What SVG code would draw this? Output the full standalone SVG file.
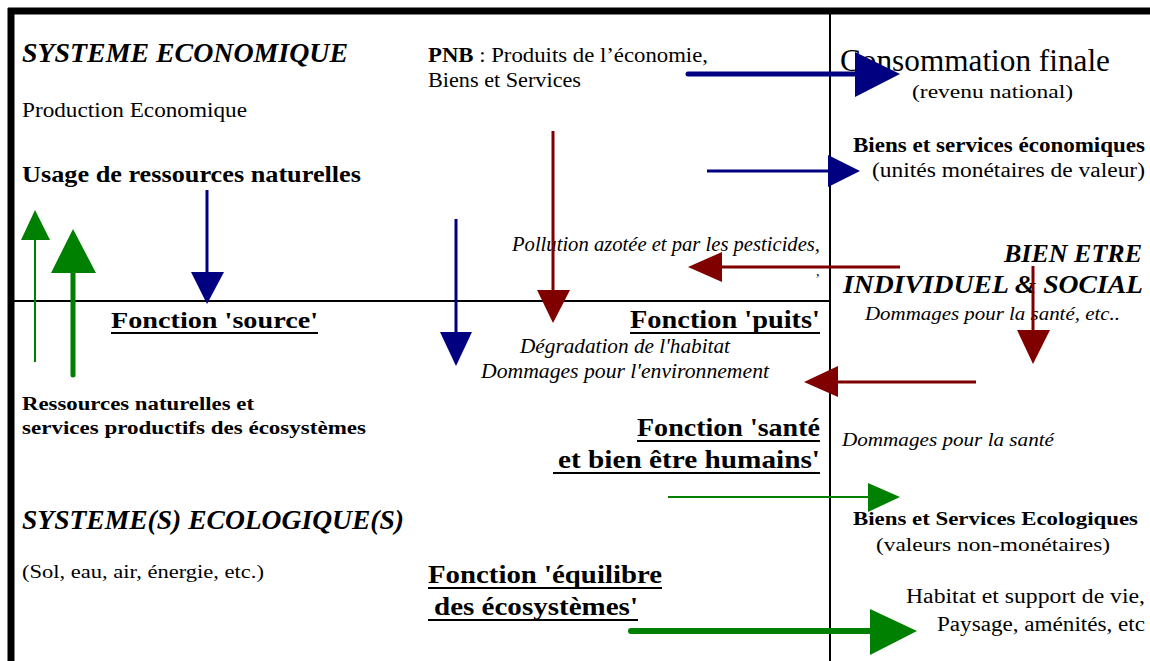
<svg xmlns="http://www.w3.org/2000/svg" width="1150" height="661" viewBox="0 0 1150 661">
<style>
text{font-family:"Liberation Serif","Times New Roman",serif;fill:#000}
.b{font-weight:bold}
.i{font-style:italic}
.bi{font-weight:bold;font-style:italic}
.ul{stroke:#000;stroke-width:2}
.navy{stroke:#000080;fill:none}
.navyh{fill:#000080}
.red{stroke:#800000;fill:none}
.redh{fill:#800000}
.grn{stroke:#008000;fill:none}
.grnh{fill:#008000}
</style>
<rect width="1150" height="661" fill="#fff"/>
<g id="frame">
<line x1="8" y1="11" x2="1150" y2="11" stroke="#000" stroke-width="7"/>
<line x1="11" y1="8" x2="11" y2="661" stroke="#000" stroke-width="7"/>
<line x1="830" y1="14" x2="830" y2="661" stroke="#000" stroke-width="2"/>
<line x1="14" y1="301" x2="830" y2="301" stroke="#000" stroke-width="2"/>
</g>
<g id="systeme-economique">
<text class="bi" x="22" y="62" font-size="27" textLength="326" lengthAdjust="spacingAndGlyphs">SYSTEME ECONOMIQUE</text>
<text x="22" y="117" font-size="20" textLength="225" lengthAdjust="spacingAndGlyphs">Production Economique</text>
<text class="b" x="22" y="182" font-size="24" textLength="339" lengthAdjust="spacingAndGlyphs">Usage de ressources naturelles</text>
</g>
<g id="pnb">
<text x="428" y="62" font-size="20" textLength="280" lengthAdjust="spacingAndGlyphs"><tspan class="b">PNB</tspan> : Produits de l’économie,</text>
<text x="428" y="87" font-size="20" textLength="153" lengthAdjust="spacingAndGlyphs">Biens et Services</text>
</g>
<g id="consommation">
<text x="840" y="71" font-size="31" textLength="270" lengthAdjust="spacingAndGlyphs">Consommation finale</text>
<text x="912" y="98" font-size="19" textLength="161" lengthAdjust="spacingAndGlyphs">(revenu national)</text>
</g>
<g id="biens-services-eco">
<text class="b" x="853" y="152" font-size="20" textLength="292" lengthAdjust="spacingAndGlyphs">Biens et services économiques</text>
<text x="872" y="177" font-size="20" textLength="273" lengthAdjust="spacingAndGlyphs">(unités monétaires de valeur)</text>
</g>
<g id="pollution">
<text class="i" x="512" y="251" font-size="20" textLength="308" lengthAdjust="spacingAndGlyphs">Pollution azotée et par les pesticides,</text>
<text class="i" x="816" y="276" font-size="14">,</text>
</g>
<g id="bien-etre">
<text class="bi" x="1004" y="262" font-size="26" textLength="138" lengthAdjust="spacingAndGlyphs">BIEN ETRE</text>
<text class="bi" x="843" y="293" font-size="26" textLength="300" lengthAdjust="spacingAndGlyphs">INDIVIDUEL &amp; SOCIAL</text>
<text class="i" x="865" y="320" font-size="19" textLength="255" lengthAdjust="spacingAndGlyphs">Dommages pour la santé, etc..</text>
</g>
<g id="fonction-source">
<text class="b" x="111" y="328" font-size="24" textLength="207" lengthAdjust="spacingAndGlyphs">Fonction 'source'</text>
<line class="ul" x1="111" y1="333" x2="318" y2="333"/>
</g>
<g id="fonction-puits">
<text class="b" x="630" y="328" font-size="25" textLength="190" lengthAdjust="spacingAndGlyphs">Fonction 'puits'</text>
<line class="ul" x1="630" y1="333" x2="820" y2="333"/>
<text class="i" x="520" y="353" font-size="20" textLength="210" lengthAdjust="spacingAndGlyphs">Dégradation de l'habitat</text>
<text class="i" x="481" y="378" font-size="20" textLength="288" lengthAdjust="spacingAndGlyphs">Dommages pour l'environnement</text>
</g>
<g id="ressources">
<text class="b" x="22" y="410" font-size="18" textLength="232" lengthAdjust="spacingAndGlyphs">Ressources naturelles et</text>
<text class="b" x="22" y="434" font-size="18" textLength="344" lengthAdjust="spacingAndGlyphs">services productifs des écosystèmes</text>
</g>
<g id="fonction-sante">
<text class="b" x="637" y="436" font-size="25" textLength="183" lengthAdjust="spacingAndGlyphs">Fonction 'santé</text>
<line class="ul" x1="637" y1="441" x2="820" y2="441"/>
<text class="b" x="558" y="468" font-size="25" textLength="262" lengthAdjust="spacingAndGlyphs">et bien être humains'</text>
<line class="ul" x1="553" y1="473" x2="820" y2="473"/>
</g>
<g id="dommages-sante">
<text class="i" x="842" y="446" font-size="19" textLength="212" lengthAdjust="spacingAndGlyphs">Dommages pour la santé</text>
</g>
<g id="systeme-ecologique">
<text class="bi" x="22" y="529" font-size="27" textLength="382" lengthAdjust="spacingAndGlyphs">SYSTEME(S) ECOLOGIQUE(S)</text>
<text x="22" y="578" font-size="18" textLength="242" lengthAdjust="spacingAndGlyphs">(Sol, eau, air, énergie, etc.)</text>
</g>
<g id="biens-services-ecologiques">
<text class="b" x="853" y="525" font-size="19" textLength="285" lengthAdjust="spacingAndGlyphs">Biens et Services Ecologiques</text>
<text x="876" y="551" font-size="19" textLength="234" lengthAdjust="spacingAndGlyphs">(valeurs non-monétaires)</text>
</g>
<g id="fonction-equilibre">
<text class="b" x="428" y="583" font-size="25" textLength="234" lengthAdjust="spacingAndGlyphs">Fonction 'équilibre</text>
<line class="ul" x1="428" y1="588" x2="662" y2="588"/>
<text class="b" x="434" y="615" font-size="25" textLength="204" lengthAdjust="spacingAndGlyphs">des écosystèmes'</text>
<line class="ul" x1="428" y1="620" x2="638" y2="620"/>
</g>
<g id="habitat">
<text x="906" y="603" font-size="20" textLength="239" lengthAdjust="spacingAndGlyphs">Habitat et support de vie,</text>
<text x="937" y="631" font-size="20" textLength="208" lengthAdjust="spacingAndGlyphs">Paysage, aménités, etc</text>
</g>
<g id="connectors">
<line class="navy" x1="688" y1="74" x2="858" y2="74" stroke-width="5" stroke-linecap="round"/>
<polygon class="navyh" points="855,52 900,74 855,97"/>
<line class="navy" x1="707" y1="171" x2="830" y2="171" stroke-width="3"/>
<polygon class="navyh" points="828,155 860,171 828,187"/>
<line class="red" x1="553" y1="131" x2="553" y2="292" stroke-width="3"/>
<polygon class="redh" points="537,290 570,290 553,323"/>
<line class="navy" x1="456" y1="219" x2="456" y2="334" stroke-width="3"/>
<polygon class="navyh" points="440,332 472,332 456,366"/>
<line class="navy" x1="207" y1="190" x2="207" y2="274" stroke-width="3"/>
<polygon class="navyh" points="191,272 224,272 207,304"/>
<line class="red" x1="900" y1="267" x2="720" y2="267" stroke-width="3"/>
<polygon class="redh" points="722,252 722,282 688,267"/>
<line class="red" x1="1033" y1="266" x2="1033" y2="332" stroke-width="3"/>
<polygon class="redh" points="1017,330 1050,330 1033,364"/>
<line class="red" x1="976" y1="382" x2="836" y2="382" stroke-width="3"/>
<polygon class="redh" points="838,366 838,397 804,382"/>
<line class="grn" x1="35" y1="362" x2="35" y2="238" stroke-width="2"/>
<polygon class="grnh" points="21,240 50,240 35,210"/>
<line class="grn" x1="73" y1="375" x2="73" y2="271" stroke-width="5" stroke-linecap="round"/>
<polygon class="grnh" points="51,273 96,273 73,229"/>
<line class="grn" x1="668" y1="497" x2="870" y2="497" stroke-width="2"/>
<polygon class="grnh" points="868,483 900,497 868,512"/>
<line class="grn" x1="631" y1="631" x2="872" y2="631" stroke-width="6" stroke-linecap="round"/>
<polygon class="grnh" points="870,609 917,631 870,655"/>
</g>
</svg>
